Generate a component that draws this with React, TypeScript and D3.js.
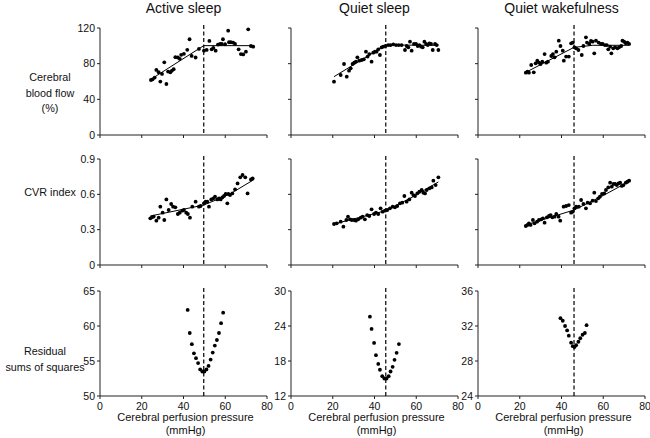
import React from "react";
import * as d3 from "d3";

const conditions = ["Active sleep", "Quiet sleep", "Quiet wakefulness"];
const breakpoints = [49.7, 45.4, 46.0];
const xTicks = [0, 20, 40, 60, 80];
const cbfTicks = [0, 40, 80, 120];
const cvrTicks = [0, 0.3, 0.6, 0.9];
const rssTicks = [
  [50, 55, 60, 65],
  [12, 18, 24, 30],
  [24, 28, 32, 36],
];

const asCbf: [number, number][] = [
  [24.4, 61.7], [25.2, 62.4], [26.2, 64.4], [27.0, 73.0], [28.1, 70.4], [28.9, 59.9], [29.7, 68.5],
  [30.8, 81.5], [31.8, 57.2], [32.6, 71.1], [33.7, 70.4], [34.5, 72.3], [35.3, 73.8], [36.1, 87.3],
  [37.3, 86.9], [38.2, 85.4], [38.9, 89.9], [40.2, 91.0], [41.8, 95.5], [42.9, 107.4], [43.9, 88.7],
  [45.8, 86.9], [47.4, 96.5], [49.8, 94.6], [51.1, 95.4], [52.4, 105.5], [53.5, 96.1], [54.3, 97.6],
  [55.4, 94.6], [56.5, 101.4], [57.5, 102.1], [58.3, 102.1], [58.9, 107.4], [59.9, 101.8], [61.4, 117.0],
  [61.8, 104.0], [62.7, 104.0], [63.8, 103.6], [64.7, 102.1], [66.4, 96.1], [67.5, 90.8], [68.6, 90.4],
  [69.9, 93.4], [71.0, 118.5], [72.3, 99.8], [73.4, 99.1],
];
const qsCbf: [number, number][] = [
  [20.6, 59.8], [23.8, 67.3], [25.4, 79.6], [26.7, 65.4], [27.8, 72.1], [28.6, 74.8], [29.5, 79.6],
  [30.3, 81.1], [31.1, 82.2], [31.8, 87.1], [32.7, 83.3], [33.9, 84.1], [34.9, 84.9], [35.9, 93.5],
  [36.7, 87.9], [37.5, 90.8], [38.6, 82.2], [39.4, 92.3], [40.2, 93.5], [41.0, 93.5], [41.8, 96.1],
  [42.6, 89.7], [43.4, 98.3], [44.2, 99.1], [45.3, 99.8], [46.6, 100.9], [47.7, 100.9], [49.0, 101.7],
  [50.3, 100.9], [51.6, 100.9], [53.0, 100.9], [54.6, 95.3], [55.4, 99.8], [56.2, 98.3], [57.0, 104.7],
  [57.8, 94.6], [58.9, 102.1], [59.9, 102.1], [60.7, 99.8], [61.5, 100.9], [62.3, 99.1], [63.1, 98.3],
  [63.9, 104.7], [64.7, 102.1], [65.5, 100.9], [66.3, 102.8], [67.1, 102.1], [67.9, 95.3], [69.0, 102.1],
  [69.8, 100.9], [70.6, 95.3],
];
const qwCbf: [number, number][] = [
  [22.9, 69.9], [23.7, 71.0], [24.4, 69.9], [25.5, 78.5], [26.7, 70.3], [27.6, 80.4], [28.4, 83.3],
  [29.2, 81.1], [30.0, 79.6], [30.8, 82.2], [31.9, 90.8], [32.7, 81.1], [33.5, 82.2], [35.1, 88.6],
  [35.9, 90.8], [36.7, 87.1], [37.5, 93.5], [38.7, 105.8], [39.5, 99.8], [40.6, 94.6], [41.1, 83.3],
  [42.2, 87.9], [43.5, 87.9], [44.6, 102.8], [45.4, 103.6], [46.2, 98.3], [47.0, 97.2], [48.1, 95.3],
  [49.7, 89.7], [50.5, 99.8], [51.7, 109.5], [52.2, 103.6], [53.3, 102.1], [54.1, 105.4], [54.9, 104.7],
  [55.7, 91.6], [56.5, 105.8], [57.8, 103.6], [58.9, 102.1], [59.7, 102.1], [60.8, 100.9], [61.7, 100.9],
  [62.4, 96.1], [63.3, 99.1], [63.9, 91.6], [64.8, 97.2], [65.7, 98.3], [66.8, 97.2], [67.6, 98.3],
  [68.6, 99.8], [69.2, 105.8], [70.0, 104.7], [70.8, 102.8], [71.6, 103.6], [72.4, 102.1],
];

const asCvr: [number, number][] = [
  [24.1, 0.396], [24.9, 0.405], [25.7, 0.411], [27.0, 0.376], [28.1, 0.402], [28.9, 0.495], [30.0, 0.444],
  [30.8, 0.382], [31.8, 0.557], [32.9, 0.467], [34.1, 0.518], [35.0, 0.495], [36.1, 0.49], [37.3, 0.433],
  [38.2, 0.444], [39.4, 0.461], [40.2, 0.467], [41.3, 0.444], [42.1, 0.433], [43.1, 0.402], [44.2, 0.495],
  [45.8, 0.538], [47.4, 0.495], [48.2, 0.501], [49.8, 0.524], [50.6, 0.538], [51.4, 0.538], [52.2, 0.495],
  [53.3, 0.557], [54.3, 0.566], [55.1, 0.58], [56.2, 0.557], [57.0, 0.566], [57.8, 0.557], [58.6, 0.574],
  [59.4, 0.586], [60.2, 0.603], [61.0, 0.524], [61.5, 0.603], [62.3, 0.594], [63.4, 0.608], [64.7, 0.642],
  [65.9, 0.693], [67.2, 0.744], [68.3, 0.764], [69.6, 0.744], [70.7, 0.608], [72.3, 0.727], [73.1, 0.736],
];
const qsCvr: [number, number][] = [
  [20.6, 0.348], [21.9, 0.354], [23.8, 0.368], [25.1, 0.325], [26.5, 0.382], [27.3, 0.41], [28.3, 0.388],
  [29.1, 0.382], [30.2, 0.382], [31.1, 0.376], [32.2, 0.388], [33.4, 0.402], [34.3, 0.41], [35.4, 0.388],
  [36.5, 0.424], [37.5, 0.416], [38.6, 0.473], [39.8, 0.433], [40.7, 0.444], [41.8, 0.433], [42.9, 0.481],
  [43.9, 0.453], [45.0, 0.461], [46.1, 0.467], [47.4, 0.481], [48.7, 0.495], [49.8, 0.49], [50.9, 0.501],
  [52.2, 0.524], [53.3, 0.529], [54.3, 0.586], [55.4, 0.538], [56.7, 0.557], [57.8, 0.614], [58.6, 0.594],
  [59.4, 0.586], [60.5, 0.608], [61.5, 0.622], [62.6, 0.637], [63.4, 0.614], [64.2, 0.608], [65.0, 0.637],
  [66.3, 0.651], [67.4, 0.659], [68.2, 0.716], [69.3, 0.679], [70.6, 0.744],
];
const qwCvr: [number, number][] = [
  [22.9, 0.331], [23.7, 0.34], [24.4, 0.354], [25.2, 0.34], [26.3, 0.382], [27.1, 0.354], [28.3, 0.368],
  [29.2, 0.382], [30.3, 0.388], [31.1, 0.396], [31.9, 0.359], [33.0, 0.405], [34.0, 0.416], [34.8, 0.424],
  [35.6, 0.405], [36.7, 0.41], [37.5, 0.433], [38.6, 0.41], [39.4, 0.376], [41.0, 0.495], [42.2, 0.501],
  [43.5, 0.509], [44.6, 0.444], [45.4, 0.453], [46.2, 0.481], [47.0, 0.495], [48.3, 0.495], [49.4, 0.552],
  [50.5, 0.518], [51.7, 0.481], [52.5, 0.529], [53.7, 0.524], [54.9, 0.546], [55.7, 0.614], [56.5, 0.543],
  [57.6, 0.566], [58.4, 0.58], [59.4, 0.603], [60.5, 0.608], [61.3, 0.637], [62.4, 0.659], [63.3, 0.699],
  [64.1, 0.665], [64.9, 0.688], [65.7, 0.688], [66.5, 0.679], [67.3, 0.693], [68.1, 0.699], [68.9, 0.671],
  [69.7, 0.679], [70.8, 0.699], [71.6, 0.707], [72.4, 0.716],
];

const asRss: [number, number][] = [
  [42, 62.3], [43, 59.0], [44, 57.4], [45, 56.1], [46, 55.4], [47, 54.7], [48, 53.8], [49, 53.5], [50, 53.5],
  [51, 53.8], [52, 54.3], [53, 55.2], [54, 56.2], [55, 57.2], [56, 58.0], [57, 59.0], [58, 60.4], [59, 61.9],
];
const qsRss: [number, number][] = [
  [37.8, 25.6], [38.6, 23.5], [39.8, 21.1], [40.7, 19.0], [41.8, 17.5], [42.6, 16.5], [43.7, 15.4],
  [44.7, 15.0], [45.8, 15.0], [46.8, 15.4], [47.7, 16.2], [48.7, 17.0], [49.6, 18.2], [50.6, 19.4], [51.7, 20.9],
];
const qwRss: [number, number][] = [
  [39.5, 32.9], [40.6, 32.6], [41.7, 32.0], [42.7, 31.5], [43.5, 30.9], [44.6, 30.1], [45.4, 29.7],
  [46.2, 29.6], [47.0, 29.8], [48.1, 30.2], [49.0, 30.6], [50.1, 31.0], [51.2, 31.2], [52.0, 32.1],
];

const asCbfFit: [number, number][] = [[24.4, 62.5], [49.7, 100.2], [73.4, 100.2]];
const qsCbfFit: [number, number][] = [[20.6, 65.4], [45.4, 100.9], [70.6, 100.6]];
const qwCbfFit: [number, number][] = [[22.9, 70.3], [46.0, 98.3], [55.0, 100.6], [72.4, 100.6]];
const asCvrFit: [number, number][] = [[24.1, 0.416], [49.7, 0.509], [62.0, 0.6], [73.9, 0.727]];
const qsCvrFit: [number, number][] = [[20.6, 0.348], [45.4, 0.461], [58.0, 0.575], [70.6, 0.705]];
const qwCvrFit: [number, number][] = [[22.9, 0.34], [46.0, 0.467], [60.0, 0.59], [72.4, 0.71]];

const colLeft = [100, 291, 478];
const colWidth = 167;
const rowBottom = [135, 265, 396];
const rowHeight = [107, 106, 105];

const FONT = "Liberation Sans, Arial, sans-serif";

type PanelProps = {
  col: number;
  row: number;
  domain: [number, number];
  ticks: number[];
  points: [number, number][];
  fit?: [number, number][];
  showYLabels: boolean;
  showXLabels: boolean;
};

function Panel({ col, row, domain, ticks, points, fit, showYLabels, showXLabels }: PanelProps) {
  const x = d3.scaleLinear().domain([0, 80]).range([colLeft[col], colLeft[col] + colWidth]);
  const y = d3.scaleLinear().domain(domain).range([rowBottom[row], rowBottom[row] - rowHeight[row]]);
  const line = d3.line<[number, number]>().x((d) => x(d[0])).y((d) => y(d[1]));
  const x0 = x(0);
  const yb = y(domain[0]);
  const yt = y(domain[1]);
  const bp = x(breakpoints[col]);
  return (
    <g>
      <line x1={x0} x2={x0} y1={yt} y2={yb} stroke="#222" strokeWidth={1} />
      <line x1={x0} x2={x(80)} y1={yb} y2={yb} stroke="#222" strokeWidth={1} />
      {ticks.map((t) => (
        <g key={"y" + t}>
          <line x1={x0 - 3} x2={x0} y1={y(t)} y2={y(t)} stroke="#222" strokeWidth={1} />
          {showYLabels && (
            <text x={x0 - 5} y={y(t)} dy="0.35em" textAnchor="end" fontSize={10.5} fontFamily={FONT} fill="#111">
              {d3.format("")(t)}
            </text>
          )}
        </g>
      ))}
      {xTicks.map((t) => (
        <g key={"x" + t}>
          <line x1={x(t)} x2={x(t)} y1={yb} y2={yb + 3} stroke="#222" strokeWidth={1} />
          {showXLabels && (
            <text x={x(t)} y={yb + 14} textAnchor="middle" fontSize={10.5} fontFamily={FONT} fill="#111">
              {t}
            </text>
          )}
        </g>
      ))}
      <line x1={bp} x2={bp} y1={yt - 3} y2={yb} stroke="#000" strokeWidth={1.2} strokeDasharray="4,2.5" />
      {fit && <path d={line(fit) || ""} fill="none" stroke="#000" strokeWidth={1} />}
      {points.map((p, i) => (
        <circle key={i} cx={x(p[0])} cy={y(p[1])} r={1.9} fill="#000" />
      ))}
    </g>
  );
}

export default function App() {
  const cbf = [asCbf, qsCbf, qwCbf];
  const cvr = [asCvr, qsCvr, qwCvr];
  const rss = [asRss, qsRss, qwRss];
  const cbfFit = [asCbfFit, qsCbfFit, qwCbfFit];
  const cvrFit = [asCvrFit, qsCvrFit, qwCvrFit];
  return (
    <svg width={650} height={438} style={{ position: "absolute", left: 0, top: 0, background: "#fff" }}>
      <rect width={650} height={438} fill="#fff" />
      {conditions.map((c, i) => (
        <text key={c} x={colLeft[i] + colWidth / 2} y={13} textAnchor="middle" fontSize={14} fontFamily={FONT} fill="#111">
          {c}
        </text>
      ))}
      {[0, 1, 2].map((i) => (
        <g key={i}>
          <Panel col={i} row={0} domain={[0, 120]} ticks={cbfTicks} points={cbf[i]} fit={cbfFit[i]} showYLabels={i === 0} showXLabels={false} />
          <Panel col={i} row={1} domain={[0, 0.9]} ticks={cvrTicks} points={cvr[i]} fit={cvrFit[i]} showYLabels={i === 0} showXLabels={false} />
          <Panel col={i} row={2} domain={[rssTicks[i][0], rssTicks[i][3]]} ticks={rssTicks[i]} points={rss[i]} showYLabels={true} showXLabels={true} />
          <text x={colLeft[i] + colWidth / 2 + 2} y={421} textAnchor="middle" fontSize={11} fontFamily={FONT} fill="#111">
            Cerebral perfusion pressure
          </text>
          <text x={colLeft[i] + colWidth / 2 + 2} y={433.5} textAnchor="middle" fontSize={11} fontFamily={FONT} fill="#111">
            (mmHg)
          </text>
        </g>
      ))}
      <g fontSize={10.8} fontFamily={FONT} fill="#111" textAnchor="middle">
        <text x={50} y={81}>Cerebral</text>
        <text x={50} y={97}>blood flow</text>
        <text x={50} y={112}>(%)</text>
        <text x={50} y={196}>CVR index</text>
        <text x={45} y={355}>Residual</text>
        <text x={45} y={371}>sums of squares</text>
      </g>
    </svg>
  );
}
